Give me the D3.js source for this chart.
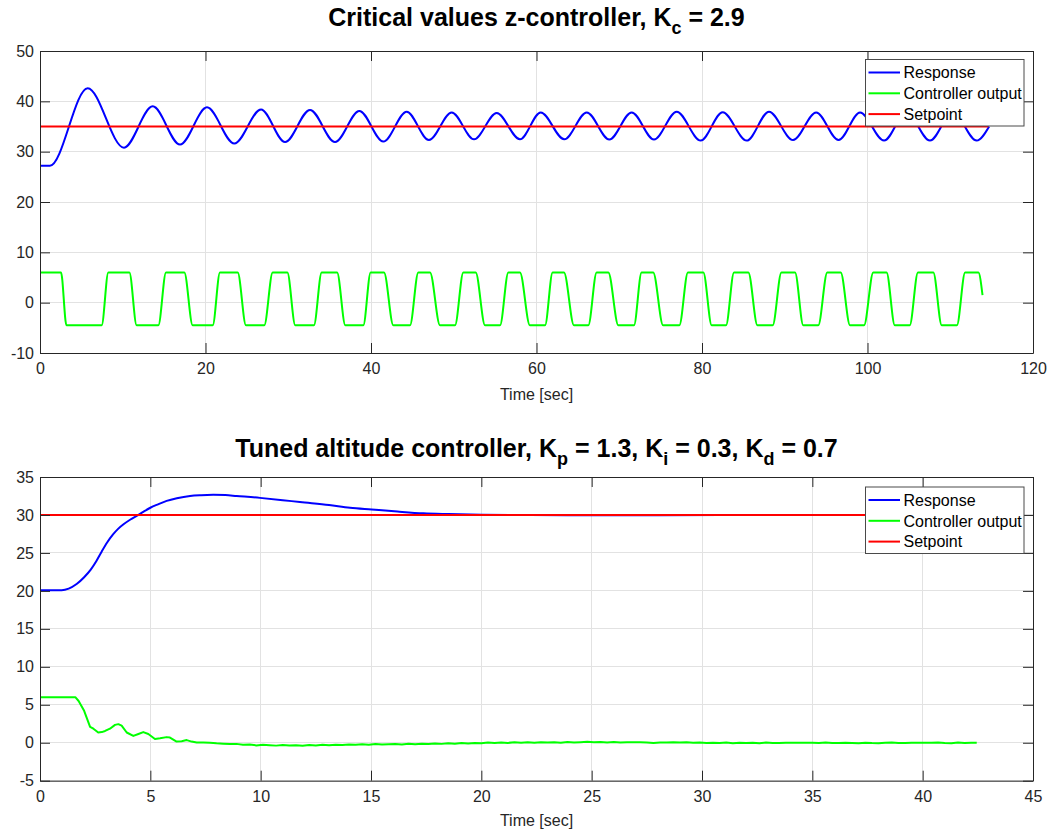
<!DOCTYPE html>
<html>
<head>
<meta charset="utf-8">
<script src="https://cdn.jsdelivr.net/npm/d3@7"></script>
<style>
  body { margin: 0; background: #fff; }
  svg { display: block; }
  text { font-family: "Liberation Sans", Arial, Helvetica, sans-serif; }
</style>
</head>
<body>
<svg id="fig" width="1051" height="829"></svg>
<script>
// ---------- Critical values z-controller (Kc = 2.9) ----------
const zTime     = [0, 1.2, 5.76, 10.15, 13.62, 16.92, 20.18, 23.48, 26.71, 29.61, 32.63, 35.65, 38.59, 41.49, 44.31, 47.0, 49.75, 52.45, 55.19, 58.0, 60.51, 63.36, 66.07, 68.8, 71.5, 74.2, 76.94, 79.84, 82.5, 85.4, 88.1, 91.0, 93.8, 96.5, 99.1, 102.0, 104.7, 107.55, 110.3, 113.2, 114.7];
const zResponse = [27.2, 27.2, 42.6, 30.8, 39.0, 31.4, 38.8, 31.6, 38.4, 31.9, 38.3, 31.9, 38.1, 32.0, 37.95, 32.3, 37.8, 32.45, 37.7, 32.45, 37.8, 32.45, 37.8, 32.4, 37.8, 32.4, 37.95, 32.2, 37.85, 32.2, 37.95, 32.3, 37.8, 32.3, 37.8, 32.2, 37.9, 32.2, 37.9, 32.2, 35.0];

const zCtrlTime = [0, 2.54, 3.2, 7.45, 8.26, 10.8, 11.68, 14.3, 15.23, 17.44, 18.45, 20.87, 21.75, 23.89, 24.89, 27.1, 28.12, 29.89, 30.85, 33.1, 34.04, 35.9, 36.9, 39.07, 39.96, 41.57, 42.7, 44.71, 45.72, 47.13, 48.34, 50.15, 51.16, 52.65, 53.78, 55.59, 56.6, 58.0, 59.2, 61.03, 61.95, 63.32, 64.53, 66.26, 67.27, 68.68, 69.89, 71.78, 72.7, 74.1, 75.3, 77.26, 78.3, 80.16, 81.17, 82.9, 83.87, 85.6, 86.7, 88.54, 89.6, 91.24, 92.24, 94.05, 95.14, 96.76, 97.89, 99.58, 100.7, 102.3, 103.3, 105.1, 106.1, 107.95, 108.97, 110.8, 111.8, 113.4, 113.9];
const zCtrlOut  = [6, 6, -4.5, -4.5, 6, 6, -4.5, -4.5, 6, 6, -4.5, -4.5, 6, 6, -4.5, -4.5, 6, 6, -4.5, -4.5, 6, 6, -4.5, -4.5, 6, 6, -4.5, -4.5, 6, 6, -4.5, -4.5, 6, 6, -4.5, -4.5, 6, 6, -4.5, -4.5, 6, 6, -4.5, -4.5, 6, 6, -4.5, -4.5, 6, 6, -4.5, -4.5, 6, 6, -4.5, -4.5, 6, 6, -4.5, -4.5, 6, 6, -4.5, -4.5, 6, 6, -4.5, -4.5, 6, 6, -4.5, -4.5, 6, 6, -4.5, -4.5, 6, 6, 1.5];

const zSetTime  = [0, 114.6];
const zSetpoint = [35, 35];

const zXTicks = [0, 20, 40, 60, 80, 100, 120];
const zYTicks = [-10, 0, 10, 20, 30, 40, 50];

// ---------- Tuned altitude controller (Kp = 1.3, Ki = 0.3, Kd = 0.7) ----------
const aTime     = [0, 0.98, 1.3, 1.66, 2.0, 2.3, 2.55, 2.8, 3.05, 3.3, 3.55, 3.8, 4.1, 4.4, 4.7, 5.0, 5.35, 5.74, 6.2, 6.8, 7.3, 7.85, 8.4, 8.91, 9.97, 11.0, 11.78, 13.1, 14.05, 15.03, 16.2, 17.37, 18.5, 20.0, 22.2, 25.0, 28.0, 31.0, 35.0, 39.0, 42.45];
const aResponse = [20.1, 20.1, 20.3, 20.9, 21.8, 22.8, 23.9, 25.2, 26.4, 27.4, 28.2, 28.8, 29.4, 29.9, 30.45, 30.95, 31.4, 31.85, 32.2, 32.5, 32.6, 32.65, 32.62, 32.5, 32.25, 31.95, 31.7, 31.3, 30.95, 30.72, 30.45, 30.22, 30.12, 30.03, 29.98, 29.95, 29.96, 29.98, 30.0, 30.0, 30.0];

const aCtrlTime = [0, 1.6, 1.75, 2.0, 2.27, 2.42, 2.64, 2.8, 2.95, 3.17, 3.4, 3.55, 3.7, 3.93, 4.23, 4.46, 4.68, 4.91, 5.21, 5.44, 5.74, 5.89, 6.19, 6.42, 6.65, 6.87, 7.1, 7.4, 7.7, 8.0, 8.3, 8.6, 8.9, 9.2, 9.5, 9.8, 10.1, 10.4, 10.7, 11.0, 11.3, 11.6, 11.9, 12.2, 12.5, 12.8, 13.1, 13.4, 13.7, 14.0, 14.3, 14.6, 14.9, 15.2, 15.5, 15.8, 16.1, 16.4, 16.7, 17.0, 17.3, 17.6, 17.9, 18.2, 18.5, 18.8, 19.1, 19.4, 19.7, 20.0, 20.3, 20.6, 20.9, 21.2, 21.5, 21.8, 22.1, 22.4, 22.7, 23.0, 23.3, 23.6, 23.9, 24.2, 24.5, 24.8, 25.1, 25.4, 25.7, 26.0, 26.3, 26.6, 26.9, 27.2, 27.5, 27.8, 28.1, 28.4, 28.7, 29.0, 29.3, 29.6, 29.9, 30.2, 30.5, 30.8, 31.1, 31.4, 31.7, 32.0, 32.3, 32.6, 32.9, 33.2, 33.5, 33.8, 34.1, 34.4, 34.7, 35.0, 35.3, 35.6, 35.9, 36.2, 36.5, 36.8, 37.1, 37.4, 37.7, 38.0, 38.3, 38.6, 38.9, 39.2, 39.5, 39.8, 40.1, 40.4, 40.7, 41.0, 41.3, 41.6, 41.9, 42.2, 42.45];
const aCtrlOut  = [6, 6, 5.5, 4.2, 2.1, 1.85, 1.35, 1.4, 1.55, 1.85, 2.35, 2.45, 2.25, 1.35, 0.9, 1.15, 1.4, 1.15, 0.5, 0.58, 0.74, 0.68, 0.15, 0.2, 0.35, 0.15, 0.02, 0.04, 0.0, -0.08, -0.12, -0.18, -0.15, -0.25, -0.22, -0.35, -0.28, -0.32, -0.38, -0.3, -0.36, -0.33, -0.4, -0.3, -0.35, -0.28, -0.34, -0.25, -0.3, -0.22, -0.28, -0.2, -0.26, -0.18, -0.24, -0.2, -0.16, -0.22, -0.14, -0.2, -0.12, -0.17, -0.1, -0.15, -0.08, -0.13, -0.05, -0.1, -0.04, -0.08, 0.02, -0.03, 0.04, -0.02, 0.05, 0.0, 0.06, 0.01, 0.08, 0.02, 0.06, 0.0, 0.1, 0.03, 0.08, 0.12, 0.05, 0.1, 0.04, 0.09, 0.02, 0.07, 0.05, 0.05, 0.04, -0.02, 0.04, 0.03, 0.05, 0.02, 0.06, 0.01, 0.03, -0.03, 0.0, -0.05, 0.02, -0.06, 0.01, -0.05, 0.0, -0.07, 0.02, -0.02, -0.04, 0.0, 0.0, 0.0, 0.0, 0.0, -0.04, 0.02, -0.03, -0.05, 0.0, -0.02, -0.06, 0.01, -0.04, -0.07, 0.0, 0.02, -0.02, -0.02, 0.0, 0.0, 0.0, 0.0, 0.02, -0.04, -0.07, 0.02, -0.04, 0.01, 0.0];

const aSetTime  = [0, 42.45];
const aSetpoint = [30, 30];

const aXTicks = [0, 5, 10, 15, 20, 25, 30, 35, 40, 45];
const aYTicks = [-5, 0, 5, 10, 15, 20, 25, 30, 35];

const legendLabels = ["Response", "Controller output", "Setpoint"];
const seriesColors = ["#0000ff", "#00ff00", "#ff0000"];
const xAxisLabel = "Time [sec]";

// title pieces: [text, isSubscript]
const zTitle = [["Critical values z-controller, K", false], ["c", true], [" = 2.9", false]];
const aTitle = [["Tuned altitude controller, K", false], ["p", true], [" = 1.3, K", false], ["i", true], [" = 0.3, K", false], ["d", true], [" = 0.7", false]];

// ---------- drawing ----------
const svg = d3.select("#fig");
const AX = "#262626";
const GRID = "#e2e2e2";
const LEFT = 40, RIGHT = 1033;

function zipPts(ts, vs) { return ts.map((t, i) => [t, vs[i]]); }

function drawPanel(p) {
  const x = d3.scaleLinear().domain(p.xDomain).range([LEFT, RIGHT]);
  const y = d3.scaleLinear().domain(p.yDomain).range([p.bottom, p.top]);
  const g = svg.append("g");

  const clipId = "clip" + p.id;
  g.append("clipPath").attr("id", clipId).append("rect")
    .attr("x", LEFT).attr("y", p.top).attr("width", RIGHT - LEFT).attr("height", p.bottom - p.top);

  // grid
  g.append("g").selectAll("line").data(p.xTicks).join("line")
    .attr("x1", d => x(d)).attr("x2", d => x(d)).attr("y1", p.top).attr("y2", p.bottom)
    .attr("stroke", GRID).attr("stroke-width", 1).attr("shape-rendering", "crispEdges");
  g.append("g").selectAll("line").data(p.yTicks).join("line")
    .attr("y1", d => y(d)).attr("y2", d => y(d)).attr("x1", LEFT).attr("x2", RIGHT)
    .attr("stroke", GRID).attr("stroke-width", 1).attr("shape-rendering", "crispEdges");

  // data
  const plot = g.append("g").attr("clip-path", `url(#${clipId})`);
  p.series.forEach(s => {
    const line = d3.line().x(d => x(d[0])).y(d => y(d[1])).curve(s.curve || d3.curveLinear);
    plot.append("path").datum(s.pts).attr("d", line)
      .attr("fill", "none").attr("stroke", s.color).attr("stroke-width", 2)
      .attr("stroke-linejoin", "round").attr("stroke-linecap", "butt");
  });

  // axes (ticks inside, full box); labels use a plain hyphen for negatives
  const fmt = d => String(d);
  const bottomAx = g.append("g").attr("transform", `translate(0,${p.bottom})`)
    .call(d3.axisBottom(x).tickValues(p.xTicks).tickFormat(fmt).tickSizeInner(-10).tickSizeOuter(0).tickPadding(10));
  const leftAx = g.append("g").attr("transform", `translate(${LEFT},0)`)
    .call(d3.axisLeft(y).tickValues(p.yTicks).tickFormat(fmt).tickSizeInner(-10).tickSizeOuter(0).tickPadding(6));
  const topAx = g.append("g").attr("transform", `translate(0,${p.top})`)
    .call(d3.axisTop(x).tickValues(p.xTicks).tickFormat("").tickSizeInner(-10).tickSizeOuter(0));
  const rightAx = g.append("g").attr("transform", `translate(${RIGHT},0)`)
    .call(d3.axisRight(y).tickValues(p.yTicks).tickFormat("").tickSizeInner(-10).tickSizeOuter(0));
  [bottomAx, leftAx, topAx, rightAx].forEach(a => {
    a.select(".domain").attr("stroke", AX).attr("stroke-width", 1);
    a.selectAll(".tick line").attr("stroke", AX).attr("stroke-width", 1);
    a.selectAll(".tick text").attr("fill", AX).attr("font-size", 16)
      .attr("font-family", '"Liberation Sans", Arial, Helvetica, sans-serif');
  });

  // x label
  g.append("text").attr("x", (LEFT + RIGHT) / 2).attr("y", p.xlabelY)
    .attr("text-anchor", "middle").attr("font-size", 16).attr("fill", AX).text(xAxisLabel);

  // title with subscripts
  const t = g.append("text").attr("x", (LEFT + RIGHT) / 2).attr("y", p.titleY)
    .attr("text-anchor", "middle").attr("font-size", 25).attr("font-weight", "bold").attr("fill", "#000");
  let shifted = false;
  p.title.forEach(([txt, sub]) => {
    const ts = t.append("tspan").text(txt);
    if (sub) { ts.attr("font-size", 18).attr("dy", 8); shifted = true; }
    else if (shifted) { ts.attr("dy", -8); shifted = false; }
  });

  // legend
  const lg = g.append("g");
  const lx = 865, lw = 158.5, lh = 66.5, ly = p.legendTop;
  lg.append("rect").attr("x", lx + 0.5).attr("y", ly + 0.5).attr("width", lw).attr("height", lh)
    .attr("fill", "#fff").attr("stroke", "#4a4a4a").attr("stroke-width", 1);
  legendLabels.forEach((lab, i) => {
    const cy = ly + 13.5 + i * 20.8;
    lg.append("line").attr("x1", lx + 3.5).attr("x2", lx + 35).attr("y1", cy).attr("y2", cy)
      .attr("stroke", seriesColors[i]).attr("stroke-width", 2);
    lg.append("text").attr("x", lx + 38.5).attr("y", cy + 5.8).attr("font-size", 16).attr("fill", "#000").text(lab);
  });
}

drawPanel({
  id: "z", top: 51, bottom: 353,
  xDomain: [0, 120], yDomain: [-10, 50], xTicks: zXTicks, yTicks: zYTicks,
  title: zTitle, titleY: 26, xlabelY: 400, legendTop: 59,
  series: [
    { pts: zipPts(zTime, zResponse), color: seriesColors[0], curve: d3.curveMonotoneX },
    { pts: zipPts(zCtrlTime, zCtrlOut), color: seriesColors[1], curve: d3.curveMonotoneX },
    { pts: zipPts(zSetTime, zSetpoint), color: seriesColors[2] }
  ]
});

drawPanel({
  id: "a", top: 477, bottom: 780.7,
  xDomain: [0, 45], yDomain: [-5, 35], xTicks: aXTicks, yTicks: aYTicks,
  title: aTitle, titleY: 457, xlabelY: 826, legendTop: 486.5,
  series: [
    { pts: zipPts(aTime, aResponse), color: seriesColors[0], curve: d3.curveMonotoneX },
    { pts: zipPts(aCtrlTime, aCtrlOut), color: seriesColors[1] },
    { pts: zipPts(aSetTime, aSetpoint), color: seriesColors[2] }
  ]
});
</script>
</body>
</html>
